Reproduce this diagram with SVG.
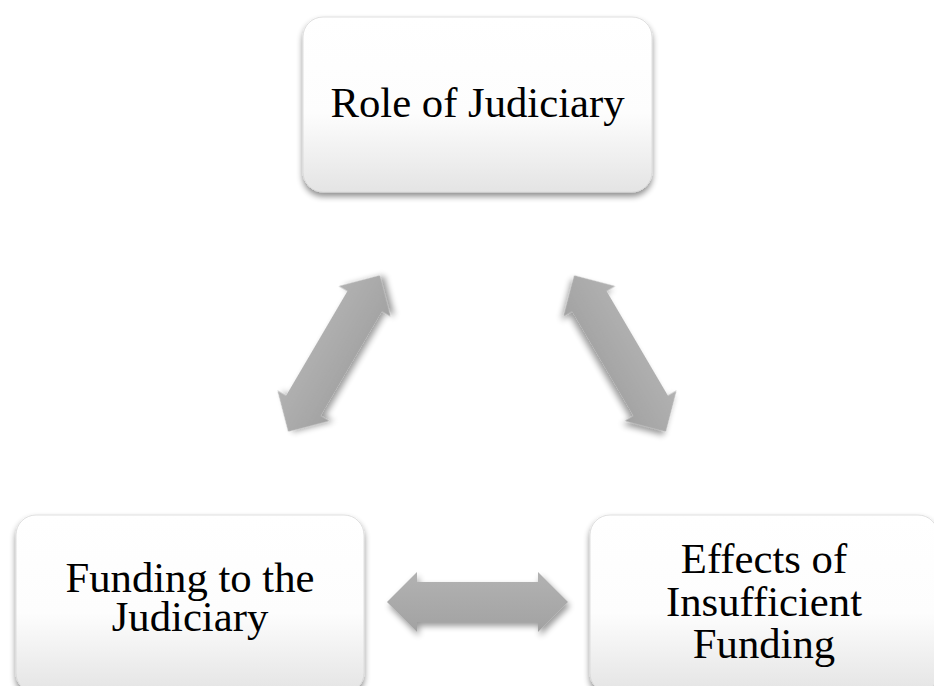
<svg xmlns="http://www.w3.org/2000/svg" width="934" height="686" viewBox="0 0 934 686">
<defs>
<linearGradient id="boxg" x1="0" y1="0" x2="0" y2="1">
<stop offset="0" stop-color="#ffffff"/>
<stop offset="0.55" stop-color="#fdfdfd"/>
<stop offset="1" stop-color="#e4e4e4"/>
</linearGradient>
<linearGradient id="arrg" x1="0" y1="0" x2="0" y2="1">
<stop offset="0" stop-color="#b2b2b2"/>
<stop offset="1" stop-color="#a2a2a2"/>
</linearGradient>
<filter id="sh" x="-20%" y="-20%" width="140%" height="150%">
<feGaussianBlur in="SourceAlpha" stdDeviation="3"/>
<feOffset dx="0" dy="4" result="b"/>
<feComponentTransfer><feFuncA type="linear" slope="0.45"/></feComponentTransfer>
<feMerge><feMergeNode/><feMergeNode in="SourceGraphic"/></feMerge>
</filter>
<filter id="ash" x="-30%" y="-60%" width="160%" height="220%">
<feGaussianBlur in="SourceAlpha" stdDeviation="3"/>
<feOffset dx="2" dy="4" result="b"/>
<feComponentTransfer><feFuncA type="linear" slope="0.4"/></feComponentTransfer>
<feMerge><feMergeNode/><feMergeNode in="SourceGraphic"/></feMerge>
</filter>
<path id="arrow" d="M -90.5,0 L -60.5,-30 L -60.5,-20 L 60.5,-20 L 60.5,-30 L 90.5,0 L 60.5,30 L 60.5,20 L -60.5,20 L -60.5,30 Z"/>
</defs>
<style>
.box{fill:url(#boxg);stroke:#d8d8d8;stroke-width:0.8;filter:url(#sh)}
.lbl{font-family:"Liberation Serif","Times New Roman",serif;font-size:42.7px;fill:#000;text-anchor:middle}
.arr{fill:url(#arrg);filter:url(#ash)}
</style>
<rect width="934" height="686" fill="#ffffff"/>
<g id="connectors">
<use href="#arrow" class="arr" transform="translate(334,353.5) rotate(-59.6)"/>
<use href="#arrow" class="arr" transform="translate(620,353.5) rotate(59.6)"/>
<use href="#arrow" class="arr" transform="translate(477.5,602)"/>
</g>
<g id="node-role">
<rect class="box" x="303" y="17" width="349" height="175" rx="20" ry="20"/>
<text class="lbl" x="477.5" y="117">Role of Judiciary</text>
</g>
<g id="node-funding">
<rect class="box" x="16" y="515" width="348" height="178" rx="20" ry="20"/>
<text class="lbl" x="190" y="592">Funding to the</text>
<text class="lbl" x="190" y="631">Judiciary</text>
</g>
<g id="node-effects">
<rect class="box" x="590" y="515" width="348" height="178" rx="20" ry="20"/>
<text class="lbl" x="764" y="573">Effects of</text>
<text class="lbl" x="764" y="616">Insufficient</text>
<text class="lbl" x="764" y="658">Funding</text>
</g>
</svg>
